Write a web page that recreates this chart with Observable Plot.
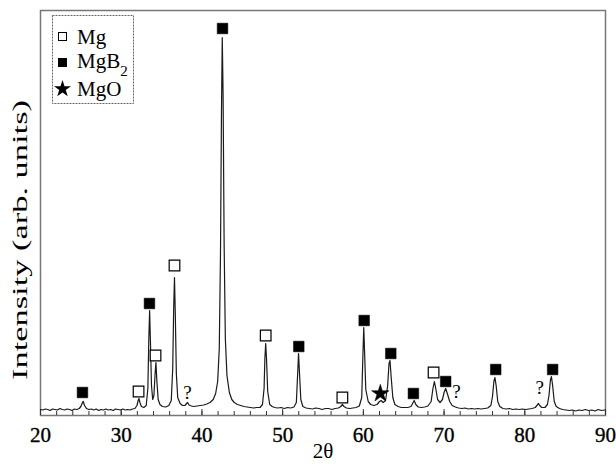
<!DOCTYPE html>
<html>
<head>
<meta charset="utf-8">
<script src="https://cdn.jsdelivr.net/npm/d3@7"></script>
<script src="https://cdn.jsdelivr.net/npm/@observablehq/plot@0.6"></script>
<style>
  html, body { margin: 0; padding: 0; background: white; }
  #wrap { position: relative; width: 616px; height: 468px; }
  #legend { position: absolute; left: 0; top: 0; }
  #wrap svg, #wrap svg text, #wrap svg tspan { font-family: "Liberation Serif", "DejaVu Serif", serif !important; }
</style>
</head>
<body>
<div id="wrap"></div>
<script>
// XRD pattern (2θ in degrees, intensity in arbitrary units)
const twoTheta = [20.0,20.3,20.6,20.9,21.2,21.5,21.8,22.1,22.4,22.7,23.0,23.3,23.6,23.9,24.2,24.5,24.8,25.0,25.2,25.3,25.45,25.7,26.0,26.3,26.6,26.9,27.2,27.5,27.8,28.1,28.4,28.7,29.0,29.3,29.6,29.9,30.2,30.5,30.8,31.1,31.4,31.7,31.95,32.1,32.2,32.32,32.5,32.8,33.1,33.3,33.42,33.52,33.62,33.75,33.9,34.05,34.2,34.3,34.42,34.58,34.8,35.1,35.5,35.9,36.2,36.38,36.5,36.6,36.7,36.83,37.0,37.3,37.6,37.9,38.1,38.22,38.4,38.7,39.0,39.4,39.8,40.2,40.6,41.0,41.4,41.7,41.95,42.15,42.3,42.42,42.52,42.62,42.75,42.9,43.1,43.4,43.7,44.0,44.4,44.8,45.2,45.6,46.0,46.4,46.8,47.2,47.5,47.7,47.8,47.9,48.0,48.15,48.4,48.7,49.0,49.4,49.8,50.2,50.6,51.0,51.4,51.7,51.85,51.97,52.08,52.25,52.5,52.9,53.3,53.7,54.1,54.5,54.9,55.3,55.7,56.1,56.5,56.9,57.2,57.4,57.6,57.9,58.3,58.7,59.1,59.5,59.8,59.95,60.05,60.15,60.3,60.6,60.9,61.3,61.7,62.0,62.2,62.45,62.75,63.0,63.18,63.3,63.45,63.65,63.9,64.3,64.7,65.1,65.5,65.9,66.1,66.3,66.5,66.8,67.2,67.6,68.0,68.4,68.62,68.8,68.97,69.2,69.5,69.8,70.0,70.2,70.4,70.7,71.0,71.4,71.8,72.2,72.6,73.0,73.4,73.8,74.2,74.6,75.0,75.4,75.8,76.0,76.17,76.3,76.45,76.65,76.9,77.3,77.7,78.1,78.5,78.9,79.3,79.7,80.1,80.5,80.9,81.3,81.55,81.7,81.85,82.1,82.5,82.8,83.0,83.17,83.3,83.45,83.65,83.9,84.3,84.7,85.1,85.5,85.9,86.3,86.7,87.1,87.5,87.9,88.3,88.7,89.1,89.5,89.9];
const intensity = [4,3.5,4.5,4,3,4.5,4,3.5,5,4,3.5,4.5,4,3,4.5,4,5,7,11,12,8,5,4,4.5,3.5,4.5,3,4,3.5,4.5,3.5,4,3,4.5,4,3.5,4.5,3.5,4,3.5,4.5,5,8,13,15,11,7,6,8,25,75,103,72,28,14,18,40,51,32,14,9,7,6.5,8,13,45,105,136,100,40,16,10,8,8,10,11,8.5,7.5,7,7.5,8,8.5,9.5,11,14,20,32,65,160,300,376,320,170,75,38,21,14,11,9,8,7,6.5,6,5.5,6,6,9,25,55,70,55,22,9,7,6,5.5,6,5,6,5.5,6.5,11,38,60,42,14,7,5.5,5,4.5,5.5,5,4,5,5,4,5,5.5,7,9,7,5.5,5,5.5,6,7.5,16,60,86,62,24,12,9,8,9,12,13,11,13,27,50,53,36,16,9,7,6,6,6,7,10,13,9,6.5,6,6.5,7.5,12,25,32,25,14,11,14,21,25,20,12,8,6.5,5.5,5,5.5,4.5,5,4.5,5,4.5,5,5.5,8,17,32,36,28,12,7,5,4.5,5,4,4.5,4,4.5,4,4.5,5,6,8.5,10,8,6,6,9,18,33,37,28,12,7,5,4,3.5,3,3.5,2.5,3.5,3,4,3,3.5,2.5,4,3,3.5];

// Phase markers
const mgX = [32.15, 34.25, 36.6, 47.9, 57.4, 68.7];
const mgY = [22, 58, 148, 78, 16, 41];
const mgb2X = [25.2, 33.5, 42.55, 52.0, 60.1, 63.4, 66.2, 70.2, 76.4, 83.45];
const mgb2Y = [21, 110, 385, 67, 93, 60, 20, 32, 44, 44];
const mgoX = [62.1];
const mgoY = [20];
const unknownX = [38.2, 71.55, 81.85];
const unknownY = [21, 22, 26];

const xTicks = [20, 30, 40, 50, 60, 70, 80, 90];
const xMinorTicks = d3.range(20, 91, 2);
const yTitle = "Intensity (arb. units)";

const pattern = twoTheta.map((t, i) => ({t, v: intensity[i]}));
const mg = mgX.map((t, i) => ({t, v: mgY[i]}));
const mgb2 = mgb2X.map((t, i) => ({t, v: mgb2Y[i]}));
const mgo = mgoX.map((t, i) => ({t, v: mgoY[i]}));
const unknown = unknownX.map((t, i) => ({t, v: unknownY[i]}));

const serif = "Liberation Serif";

const chart = Plot.plot({
  width: 616,
  height: 468,
  marginLeft: 40,
  marginRight: 11,
  marginTop: 10,
  marginBottom: 53,
  style: {fontFamily: serif, fontSize: "21px", color: "black", background: "white"},
  x: {domain: [20, 90]},
  y: {domain: [-2, 403], axis: null},
  marks: [
    Plot.frame({stroke: "#777", strokeWidth: 1.5}),
    Plot.axisX({ticks: xMinorTicks, tickSize: -4, tickFormat: () => "", stroke: "#333", label: null}),
    Plot.axisX({ticks: xTicks, tickSize: -6, tickPadding: 18, stroke: "#333", fontSize: 21,
      label: "2θ", labelAnchor: "center", labelArrow: "none", labelOffset: 42}),
    Plot.line(pattern, {x: "t", y: "v", stroke: "#1a1a1a", strokeWidth: 1.2, curve: "linear"}),
    Plot.dot(mg, {x: "t", y: "v", symbol: "square", r: 6, fill: "white", stroke: "black", strokeWidth: 1.2}),
    Plot.dot(mgb2, {x: "t", y: "v", symbol: "square", r: 6, fill: "black", stroke: "black", strokeWidth: 0.5}),
    Plot.dot(mgo, {x: "t", y: "v", symbol: "star", r: 5.5, fill: "black", stroke: "black", strokeWidth: 0.5}),
    Plot.text(unknown, {x: "t", y: "v", text: () => "?", fontSize: 19, fill: "black"})
  ]
});

// slightly heavier tick labels, like the scanned original
d3.select(chart).selectAll('g[aria-label="x-axis tick label"] text')
  .attr("stroke", "black").attr("stroke-width", 0.35);

const wrap = document.getElementById("wrap");
wrap.appendChild(chart);

// Overlay: y-axis title and legend (inside the plot frame, top-left)
const overlay = document.createElementNS("http://www.w3.org/2000/svg", "svg");
overlay.setAttribute("id", "legend");
overlay.setAttribute("width", 616);
overlay.setAttribute("height", 468);
overlay.style.pointerEvents = "none";
overlay.innerHTML = `
  <text transform="translate(19,240) rotate(-90)" text-anchor="middle" dominant-baseline="central"
        font-family="Liberation Serif" font-size="22" fill="black"
        textLength="280" lengthAdjust="spacingAndGlyphs">${yTitle}</text>
  <g font-family="Liberation Serif" font-size="21" fill="black">
    <rect x="52.5" y="15.5" width="81" height="88" fill="white" stroke="#666" stroke-width="1" stroke-dasharray="2,1"/>
    <rect x="58.5" y="32.5" width="8" height="8" fill="white" stroke="black" stroke-width="1"/>
    <text x="77" y="44">Mg</text>
    <rect x="58" y="58" width="9" height="9" fill="black"/>
    <text x="77" y="68">MgB<tspan font-size="15" dy="8">2</tspan></text>
    <path d="${d3.symbol(d3.symbolStar, 90)()}" transform="translate(62.5,89)" fill="black"/>
    <text x="77" y="96">MgO</text>
  </g>`;
wrap.appendChild(overlay);
</script>
</body>
</html>
